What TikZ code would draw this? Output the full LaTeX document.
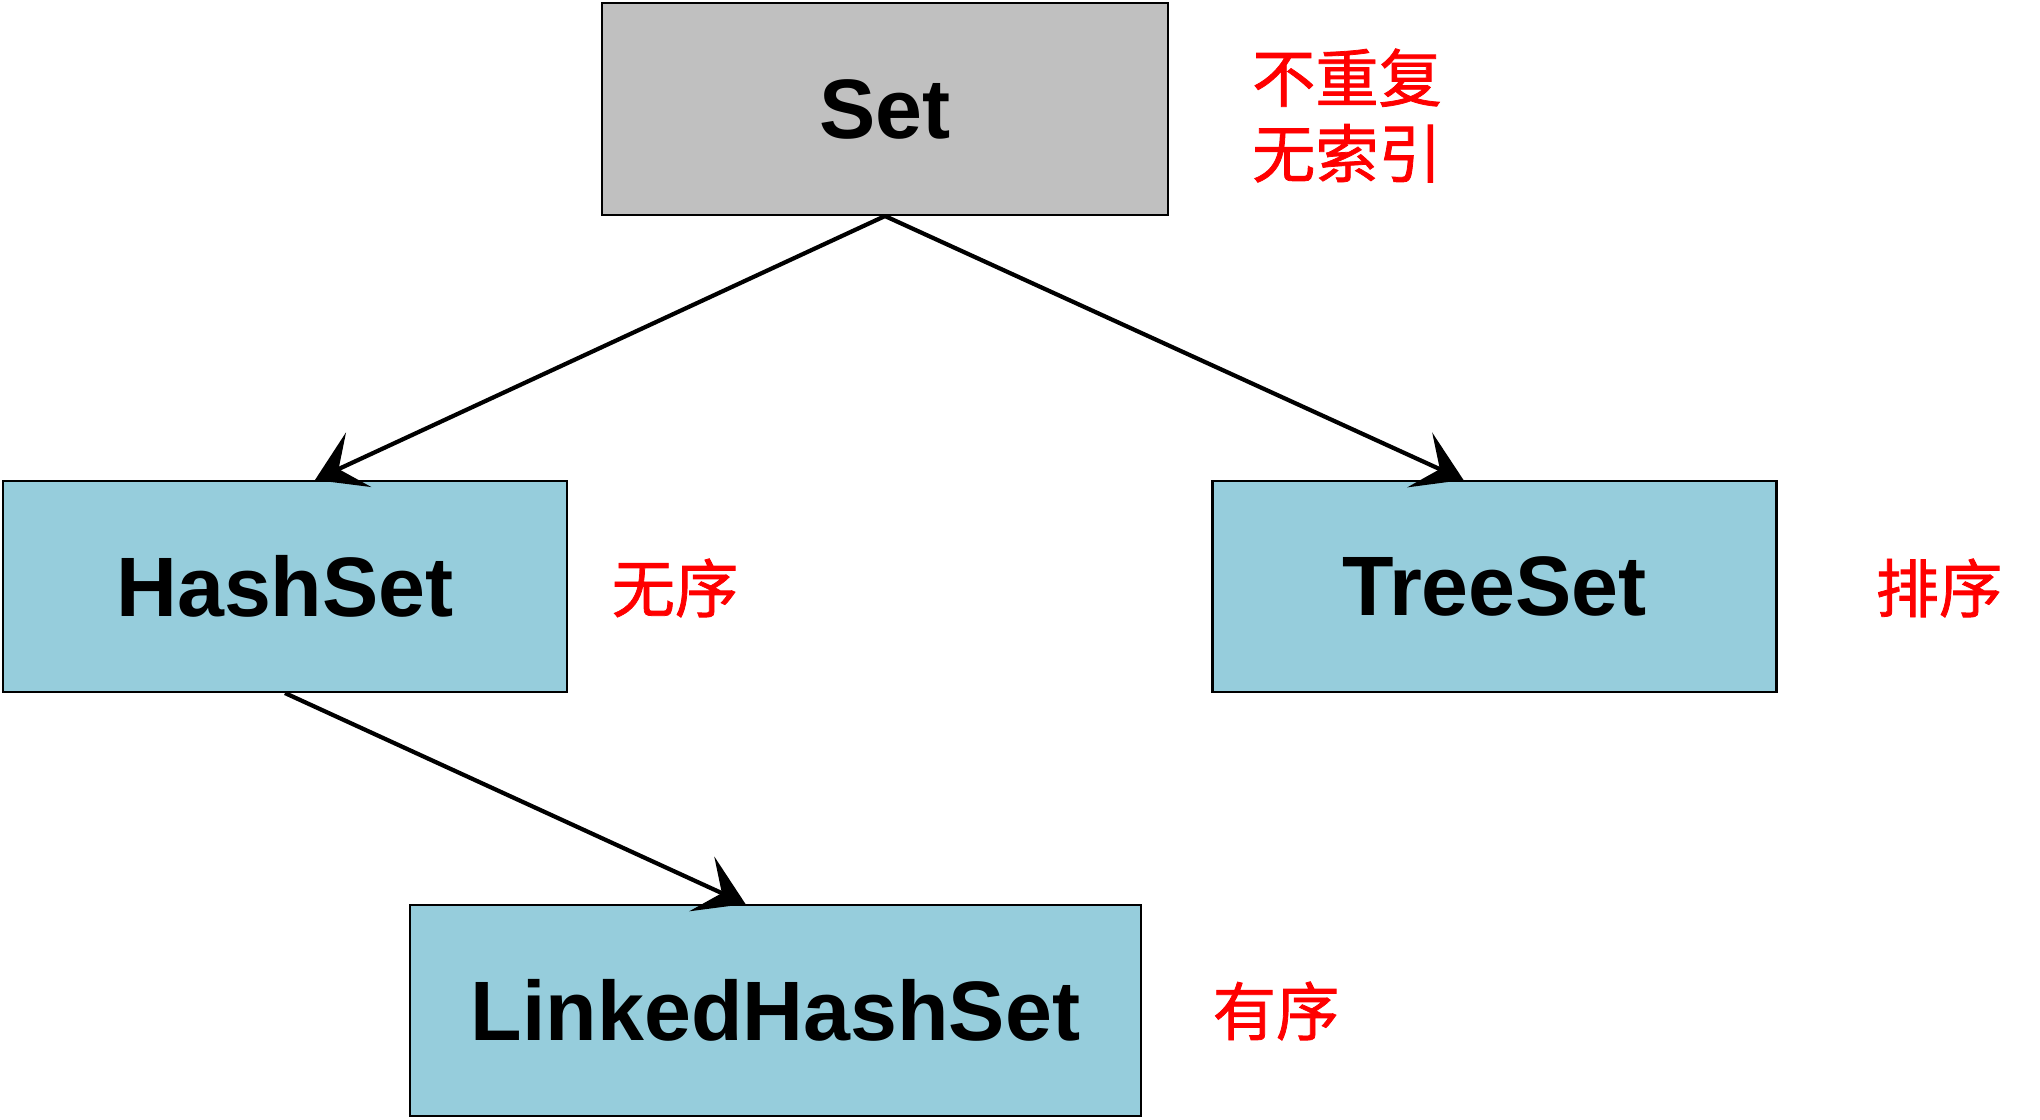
\documentclass[tikz,border=0pt]{standalone}
\usepackage{fontspec}
\setmainfont{Liberation Sans}
\newfontfamily\cjk[FakeBold=1.2]{Noto Sans CJK SC}
\usetikzlibrary{arrows.meta}
\definecolor{setgray}{RGB}{192,192,192}
\definecolor{implblue}{RGB}{150,205,220}
\begin{document}
\begin{tikzpicture}[
    box/.style={
        rectangle,
        minimum width=5.64cm,
        minimum height=2.11cm,
        draw=black,
        line width=0.6pt,
        fill=#1,
        font=\fontsize{24}{28}\selectfont\bfseries
    },
    note/.style={text=red, align=center, font=\cjk\fontsize{18}{21.5}\selectfont},
    arrow/.style={-{Stealth[length=4.8mm, width=6mm, inset=2.2mm]}, line width=1.2pt}
]
\useasboundingbox (0,0) rectangle (20.4,-11.2);

\node[box=setgray, minimum width=5.66cm, minimum height=2.12cm] (set) at (8.85,-1.09) {Set};
\node[box=implblue] (hash) at (2.85,-5.865) {HashSet};
\node[box=implblue] (tree) at (14.945,-5.865) {TreeSet};
\node[box=implblue, minimum width=7.31cm] (linked) at (7.755,-10.105) {LinkedHashSet};

\draw[arrow] (set.south) -- ([xshift=0.3cm]hash.north);
\draw[arrow] (set.south) -- ([xshift=-0.31cm]tree.north);
\draw[arrow] (hash.south) -- ([xshift=-0.3cm]linked.north);

\node[note] (setnote) at (13.47,-1.155) {不重复\\无索引};
\node[note] (hashnote) at (6.75,-5.88) {无序};
\node[note] (treenote) at (19.39,-5.88) {排序};
\node[note] (linkednote) at (12.76,-10.11) {有序};

\end{tikzpicture}
\end{document}
